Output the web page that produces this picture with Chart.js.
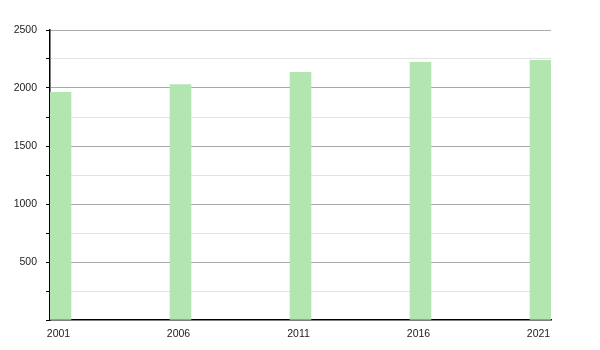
<!DOCTYPE html>
<html>
<head>
<meta charset="utf-8">
<script src="https://cdn.jsdelivr.net/npm/chart.js@4"></script>
<style>
  body { margin: 0; background: #fff; }
  #box { width: 600px; height: 350px; }
</style>
</head>
<body>
<div id="box"><canvas id="grafico" width="600" height="350"></canvas></div>
<script>
const anos = [2001, 2006, 2011, 2016, 2021];
const populacao = [1963, 2029, 2136, 2222, 2239];

const ctx = document.getElementById('grafico').getContext('2d');

new Chart(ctx, {
  type: 'bar',
  data: {
    datasets: [{
      data: anos.map((a, i) => ({ x: a, y: populacao[i] })),
      backgroundColor: '#b3e5b0',
      barThickness: 21
    }]
  },
  options: {
    responsive: false,
    animation: false,
    layout: { padding: { left: 0, right: 49, top: 30, bottom: 0 } },
    plugins: { legend: { display: false }, tooltip: { enabled: false } },
    scales: {
      x: {
        type: 'linear',
        offset: false,
        min: 2001 - 0.4375,
        max: 2021 + 0.4375,
        afterBuildTicks: axis => { axis.ticks = anos.map(v => ({ value: v })); },
        afterFit: axis => { axis.height = 30; },
        grid: { display: false },
        border: { color: '#000', width: 1.5 },
        ticks: {
          color: '#222',
          font: { family: 'Liberation Sans', size: 10.5 },
          padding: 0,
          labelOffset: -2,
          maxRotation: 0,
          callback: v => String(v)
        }
      },
      y: {
        min: 0,
        max: 2500,
        afterFit: axis => { axis.width = 50; },
        grid: {
          color: c => c.tick.value === 0 ? 'rgba(0,0,0,0)' : (c.tick.value % 500 === 0 ? '#aaaaaa' : '#e2e2e2'),
          tickColor: '#000',
          tickLength: 4
        },
        border: { color: '#000', width: 1.5 },
        ticks: {
          stepSize: 250,
          color: '#222',
          font: { family: 'Liberation Sans', size: 10.5 },
          padding: 9,
          callback: v => (v % 500 === 0 && v !== 0) ? String(v) : ''
        }
      }
    }
  }
});
</script>
</body>
</html>
